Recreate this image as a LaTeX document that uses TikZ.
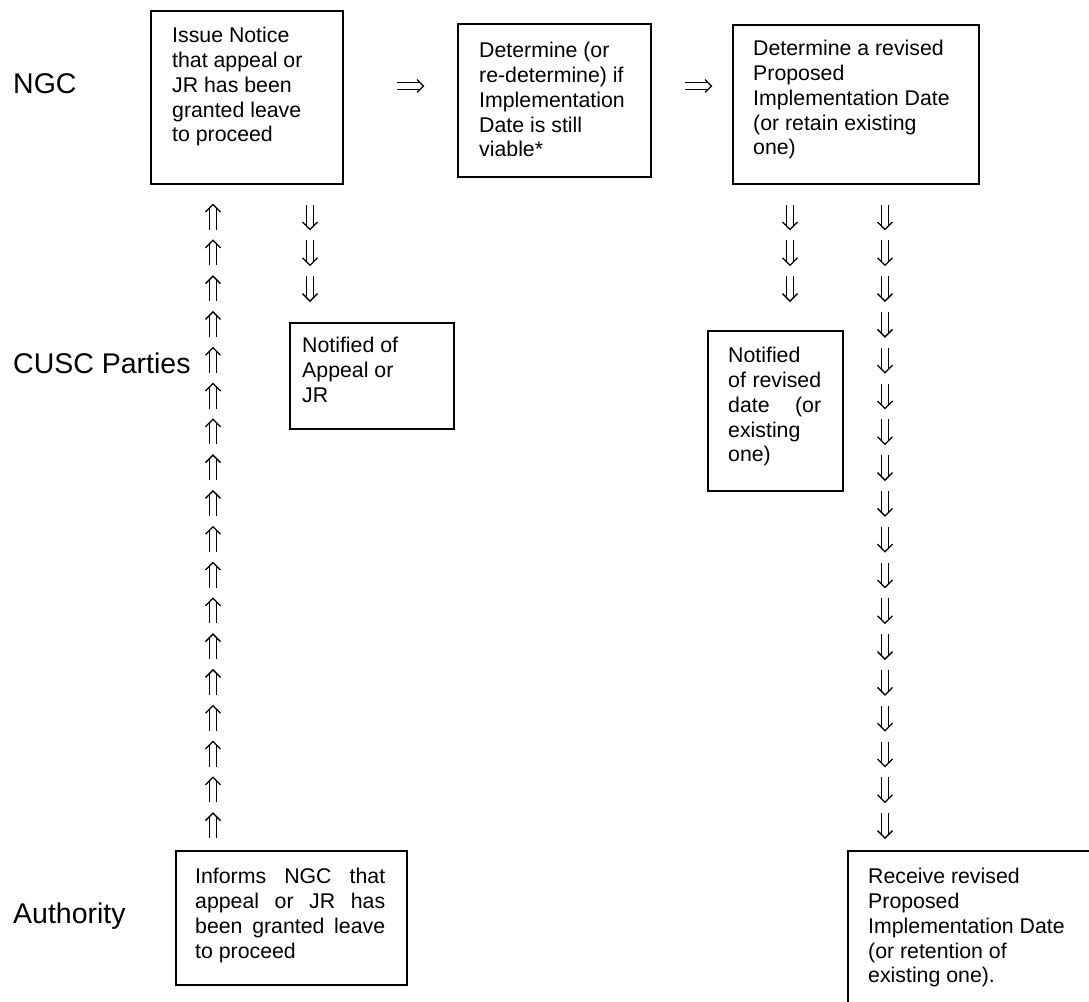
\documentclass[tikz,border=0pt]{standalone}
\usepackage{fontspec}
\setmainfont{Liberation Sans}
\usetikzlibrary{calc}
\tikzset{
  stepbox/.style={draw, line width=1.5pt, inner sep=0pt, anchor=north west},
  boxtext/.style={anchor=north west, inner sep=0pt, align=left,
    font=\fontsize{21.3}{24.8}\selectfont},
  rowlabel/.style={anchor=base west, inner sep=0pt,
    font=\fontsize{28.5}{34}\selectfont},
  glyphline/.style={line width=1.3pt, line cap=butt, line join=miter},
  uparr/.pic={
    \draw[glyphline] (-7.5,-5) -- (0,-12.5) -- (7.5,-5);
    \draw[glyphline] (-3.4,-9.1) -- (-3.4,12.5) (3.4,-9.1) -- (3.4,12.5);
  },
  dnarr/.pic={
    \draw[glyphline] (-7.5,5) -- (0,12.5) -- (7.5,5);
    \draw[glyphline] (-3.4,9.1) -- (-3.4,-12.5) (3.4,9.1) -- (3.4,-12.5);
  },
  rtarr/.pic={
    \draw[glyphline] (7,-6.5) -- (13.5,0) -- (7,6.5);
    \draw[glyphline] (-13.5,-3.2) -- (10.3,-3.2) (-13.5,3.2) -- (10.3,3.2);
  },
}
\begin{document}
\begin{tikzpicture}[x=1pt,y=-1pt]
\useasboundingbox (0,0) rectangle (1089,1001);
\fill[white] (0,0) rectangle (1089,1001);
\begin{scope}
\clip (0,0) rectangle (1089,1001);

% row labels
\node[rowlabel] (lngc) at (13,93) {NGC};
\node[rowlabel] (lcusc) at (13,373) {CUSC Parties};
\node[rowlabel] (lauth) at (13,923) {Authority};

% boxes
\node[stepbox, minimum width=192pt, minimum height=173pt] (b1) at (150,10) {};
\node[boxtext] (t1) at (172,27) {Issue Notice\\that appeal or\\JR has been\\granted leave\\to proceed};

\node[stepbox, minimum width=193pt, minimum height=153pt] (b2) at (457,23) {};
\node[boxtext] (t2) at (479,42) {Determine (or\\re-determine) if\\Implementation\\Date is still\\viable*};

\node[stepbox, minimum width=246pt, minimum height=159pt] (b3) at (732,24) {};
\node[boxtext] (t3) at (753,40) {Determine a revised\\Proposed\\Implementation Date\\(or retain existing\\one)};

\node[stepbox, minimum width=164pt, minimum height=106pt] (b4) at (289,322) {};
\node[boxtext] (t4) at (302,337) {Notified of\\Appeal or\\JR};

\node[stepbox, minimum width=135pt, minimum height=160pt] (b5) at (707,330) {};
\node[boxtext] (t5) at (728,347) {Notified\\\makebox[93pt][s]{of revised}\\\makebox[93pt][s]{date (or}\\existing\\one)};

\node[stepbox, minimum width=231pt, minimum height=134pt] (b6) at (175,850) {};
\node[boxtext] (t6) at (195,868) {\makebox[190pt][s]{Informs NGC that}\\\makebox[190pt][s]{appeal or JR has}\\\makebox[190pt][s]{been granted leave}\\to proceed};

\node[stepbox, minimum width=320pt, minimum height=220pt] (b7) at (847,850) {};
\node[boxtext] (t7) at (868,868) {Receive revised\\Proposed\\Implementation Date\\(or retention of\\existing one).};

% horizontal double arrows
\pic (r1) at (410,86) {rtarr};
\pic (r2) at (698,86) {rtarr};

% vertical double arrows
\foreach \i in {0,...,17}{
  \pic (up\i) at (213,{217+35.8*\i}) {uparr};
  \pic (dn\i) at (885,{217+35.8*\i}) {dnarr};
}
\foreach \i in {0,1,2}{
  \pic (da\i) at (310,{217+35.8*\i}) {dnarr};
  \pic (db\i) at (790,{217+35.8*\i}) {dnarr};
}
\end{scope}
\end{tikzpicture}
\end{document}
